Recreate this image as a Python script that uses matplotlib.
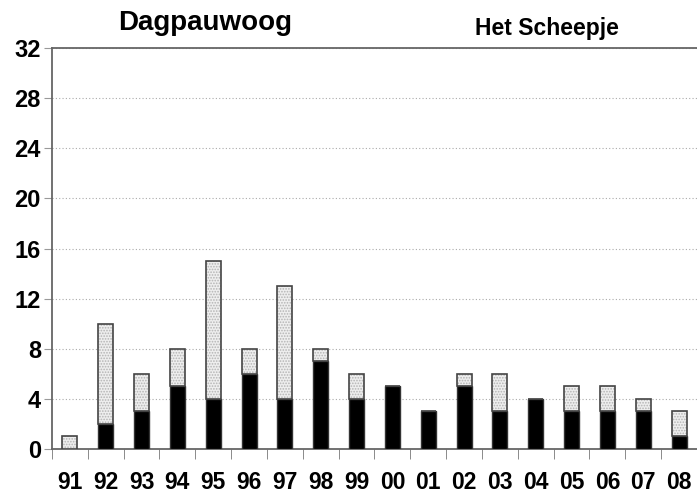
import matplotlib.pyplot as plt
import numpy as np

# Dagpauwoog counts at Het Scheepje, per year
years = ['91', '92', '93', '94', '95', '96', '97', '98', '99',
         '00', '01', '02', '03', '04', '05', '06', '07', '08']
dark = [0, 2, 3, 5, 4, 6, 4, 7, 4, 5, 3, 5, 3, 4, 3, 3, 3, 1]
light = [1, 8, 3, 3, 11, 2, 9, 1, 2, 0, 0, 1, 3, 0, 2, 2, 1, 2]
yticks = [0, 4, 8, 12, 16, 20, 24, 28, 32]

plt.rcParams['font.family'] = ['Liberation Sans', 'DejaVu Sans']
plt.rcParams['hatch.linewidth'] = 0.8

fig = plt.figure(figsize=(6.97, 4.98), dpi=100)
ax = fig.add_axes([0.0746, 0.0984, 0.9254, 0.8052])

x = np.arange(len(years))
w = 0.42
dark = np.array(dark)
light = np.array(light)

ax.bar(x, dark, w, color='black', edgecolor='#333333', linewidth=1.0, zorder=3)
# dotted grey top part: hatch layer, then outline
ax.bar(x, light, w, bottom=dark, color='#eeeeee', edgecolor='#b4b4b4',
       hatch='......', linewidth=0, zorder=3)
ax.bar(x, light, w, bottom=dark, fill=False, edgecolor='#444444',
       linewidth=1.2, zorder=4)

ax.set_xlim(-0.5, len(years) - 0.5)
ax.set_ylim(0, 32)
ax.set_yticks(yticks)
ax.set_yticklabels([str(t) for t in yticks], fontsize=17, fontweight='bold')
ax.set_xticks(x)
ax.set_xticklabels(years, fontsize=16.5, fontweight='bold')
ax.set_xticks(np.arange(len(years) + 1) - 0.5, minor=True)
ax.tick_params(axis='x', which='major', length=0, pad=16)
ax.tick_params(axis='x', which='minor', length=7, color='#777777', direction='out')
ax.tick_params(axis='y', length=6, color='#999999', pad=2)

ax.yaxis.grid(True, linestyle=(0, (1, 2)), color='#aaaaaa', linewidth=0.8, zorder=0)
ax.set_axisbelow(True)

for s in ['top', 'left', 'bottom']:
    ax.spines[s].set_color('#666666')
    ax.spines[s].set_linewidth(1.3)
ax.spines['right'].set_visible(False)

fig.text(0.295, 0.953, 'Dagpauwoog', fontsize=20, fontweight='bold', ha='center', va='center')
fig.text(0.784, 0.943, 'Het Scheepje', fontsize=16.5, fontweight='bold', ha='center', va='center')

fig.savefig('out.png', dpi=100)
